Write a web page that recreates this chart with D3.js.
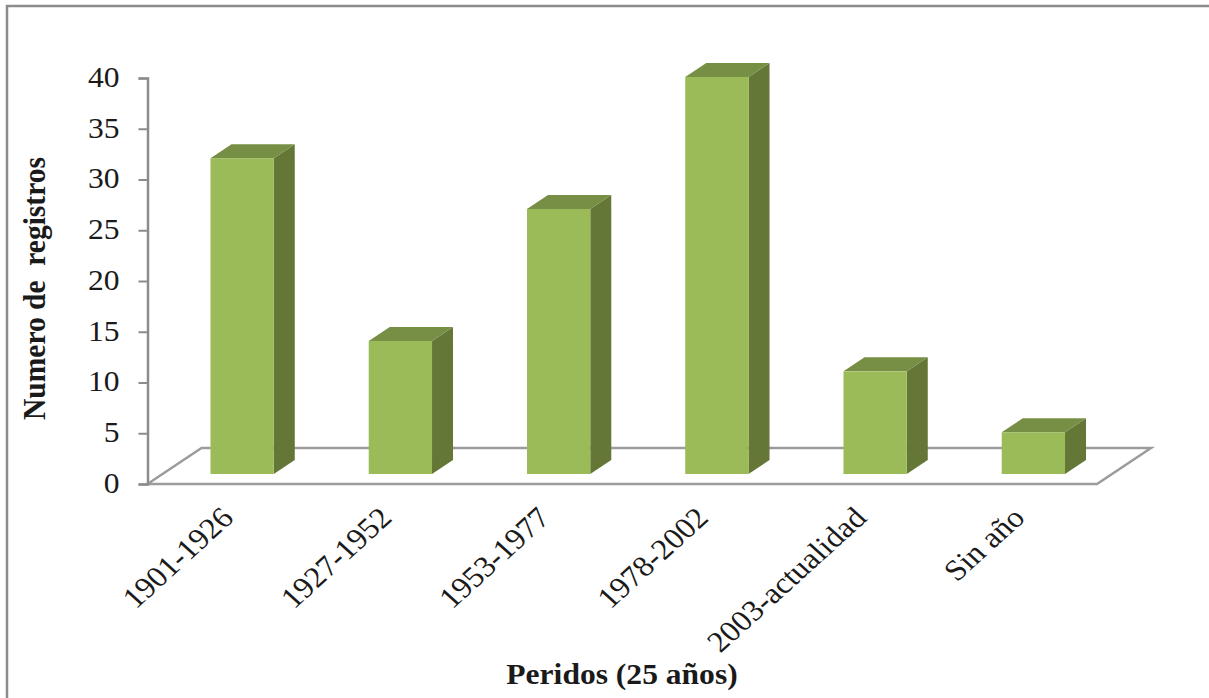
<!DOCTYPE html>
<html>
<head>
<meta charset="utf-8">
<script src="https://cdn.jsdelivr.net/npm/d3@7"></script>
<style>
  html, body { margin: 0; padding: 0; background: #fff; }
  svg { display: block; }
  text { font-family: "Liberation Serif", serif; fill: #1a1a1a; }
</style>
</head>
<body>
<svg id="chart" width="1209" height="698"></svg>
<script>
const categories = ["1901-1926", "1927-1952", "1953-1977", "1978-2002", "2003-actualidad", "Sin año"];
const registros = [32, 14, 27, 40, 11, 5];
const yTicks = [0, 5, 10, 15, 20, 25, 30, 35, 40];
const yTitle = "Numero de  registros";
const xTitle = "Peridos (25 años)";

const svg = d3.select("#chart");
const W = 1209, H = 698;
const fontSize = 29.5, stretch = 1.07;   // type is set slightly wide

// Chart frame: the top and left edges fall inside the page
svg.append("path")
  .attr("d", `M7,${H} V6 H${W}`)
  .attr("fill", "none").attr("stroke", "#8c8c8c").attr("stroke-width", 2.5);

const frontLeft = 147.5, frontRight = 1097, floorY = 484, topY = 78;
const floorDx = 54, floorDy = -36;   // floor depth
const barDx = 21, barDy = -14;       // bar depth
const barBase = floorY - 10;         // bars stand in the middle of the floor
const barRaise = 1;                  // front faces sit just above the axis plane

const y = d3.scaleLinear().domain([0, 40]).range([floorY, topY]);
const x = d3.scaleBand().domain(categories)
  .range([frontLeft + 15.5, frontRight + 15.5])
  .paddingInner(0.6).paddingOuter(0.3);
const barTop = v => y(v) - barRaise;

// Floor parallelogram
svg.append("path")
  .attr("d", `M${frontLeft},${floorY} L${frontLeft + floorDx},${floorY + floorDy} H${frontRight + floorDx} L${frontRight},${floorY} Z`)
  .attr("fill", "none").attr("stroke", "#9c9c9c").attr("stroke-width", 2.5);

// Value axis
const yAxis = d3.axisLeft(y).tickValues(yTicks).tickSize(9);
const yG = svg.append("g").attr("transform", `translate(${frontLeft},0)`).call(yAxis);
yG.select(".domain").attr("stroke", "#8c8c8c").attr("stroke-width", 2.5);
yG.selectAll(".tick line").attr("stroke", "#8c8c8c").attr("stroke-width", 2);
yG.selectAll(".tick text")
  .attr("font-size", fontSize).attr("font-family", "Liberation Serif").attr("fill", "#1a1a1a")
  .attr("x", 0)
  .attr("transform", `translate(-28,-1) scale(${stretch},1)`);

// Rotated category labels
const xAxis = d3.axisBottom(x).tickSize(0);
const xG = svg.append("g").attr("transform", `translate(0,${floorY})`).call(xAxis);
xG.select(".domain").remove();
xG.selectAll(".tick text")
  .attr("font-size", fontSize).attr("font-family", "Liberation Serif").attr("fill", "#1a1a1a")
  .attr("text-anchor", "end")
  .attr("dy", null).attr("y", 0)
  .attr("transform", "translate(-7,35.5) scale(1.1,1) rotate(-45)");

// Bars in three faces: side, top, front
const bars = svg.append("g").selectAll("g")
  .data(categories.map((c, i) => ({ c, v: registros[i] })))
  .join("g");

bars.append("path")
  .attr("d", d => {
    const r = x(d.c) + x.bandwidth(), t = barTop(d.v);
    return `M${r},${t} l${barDx},${barDy} V${barBase + barDy} L${r},${barBase} Z`;
  })
  .attr("fill", "#647737");

bars.append("path")
  .attr("d", d => {
    const l = x(d.c), t = barTop(d.v);
    return `M${l},${t} l${barDx},${barDy} h${x.bandwidth()} l${-barDx},${-barDy} Z`;
  })
  .attr("fill", "#778e45");

bars.append("rect")
  .attr("x", d => x(d.c))
  .attr("y", d => barTop(d.v))
  .attr("width", x.bandwidth())
  .attr("height", d => barBase - barTop(d.v))
  .attr("fill", "#9bbb59");

// Axis titles
svg.append("text")
  .attr("transform", `translate(45,288.5) scale(${stretch},1) rotate(-90)`)
  .attr("text-anchor", "middle")
  .attr("font-size", fontSize).attr("font-weight", "bold")
  .style("white-space", "pre")
  .text(yTitle);

svg.append("text")
  .attr("transform", `translate(622,684) scale(${stretch},1)`)
  .attr("text-anchor", "middle")
  .attr("font-size", fontSize).attr("font-weight", "bold")
  .text(xTitle);
</script>
</body>
</html>
